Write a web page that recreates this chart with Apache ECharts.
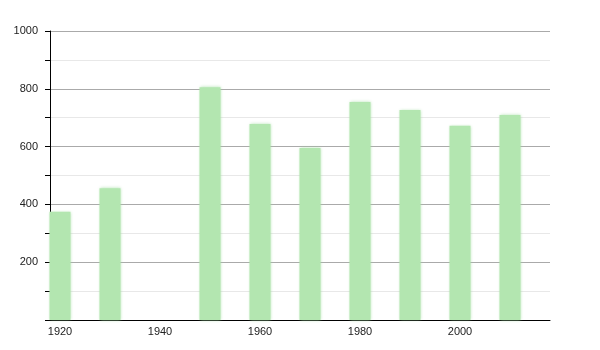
<!DOCTYPE html>
<html><head><meta charset="utf-8">
<script src="https://cdn.jsdelivr.net/npm/echarts@6/dist/echarts.min.js"></script>
<style>html,body{margin:0;padding:0;background:#fff}#c{width:600px;height:350px}</style>
</head><body><div id="c"></div>
<script>
const years = [1920, 1930, 1950, 1960, 1970, 1980, 1990, 2000, 2010];
const values = [375, 456, 805, 678, 595, 754, 727, 672, 709];
const xTickLabels = [1920, 1940, 1960, 1980, 2000];

const chart = echarts.init(document.getElementById('c'));
chart.setOption({
  animation: false,
  grid: {left: 50, right: 50, top: 31, bottom: 30, containLabel: false},
  xAxis: {
    type: 'value', min: 1918, max: 2018,
    axisLine: {show: true, lineStyle: {color: '#000', width: 1}},
    axisTick: {show: false},
    splitLine: {show: false},
    axisLabel: {customValues: xTickLabels, color: '#222', fontSize: 11, fontFamily: 'Liberation Sans', margin: 6, formatter: v => String(v)}
  },
  yAxis: {
    type: 'value', min: 0, max: 1000, interval: 200,
    axisLine: {show: true, lineStyle: {color: '#000', width: 1}},
    axisTick: {show: true, length: 5, lineStyle: {color: '#000'}},
    minorTick: {show: true, splitNumber: 2, length: 5, lineStyle: {color: '#000'}},
    splitLine: {show: true, lineStyle: {color: '#aaa', width: 1}},
    minorSplitLine: {show: true, lineStyle: {color: '#e8e8e8', width: 1}},
    axisLabel: {color: '#222', fontSize: 11, fontFamily: 'Liberation Sans', margin: 12,
      formatter: v => v === 0 ? '' : String(v)}
  },
  series: [{
    type: 'bar',
    data: years.map((y, i) => [y, values[i]]),
    barWidth: 21,
    itemStyle: {color: '#b3e6b0', shadowBlur: 3, shadowColor: 'rgba(160,220,160,0.8)'}
  }]
});
</script></body></html>
